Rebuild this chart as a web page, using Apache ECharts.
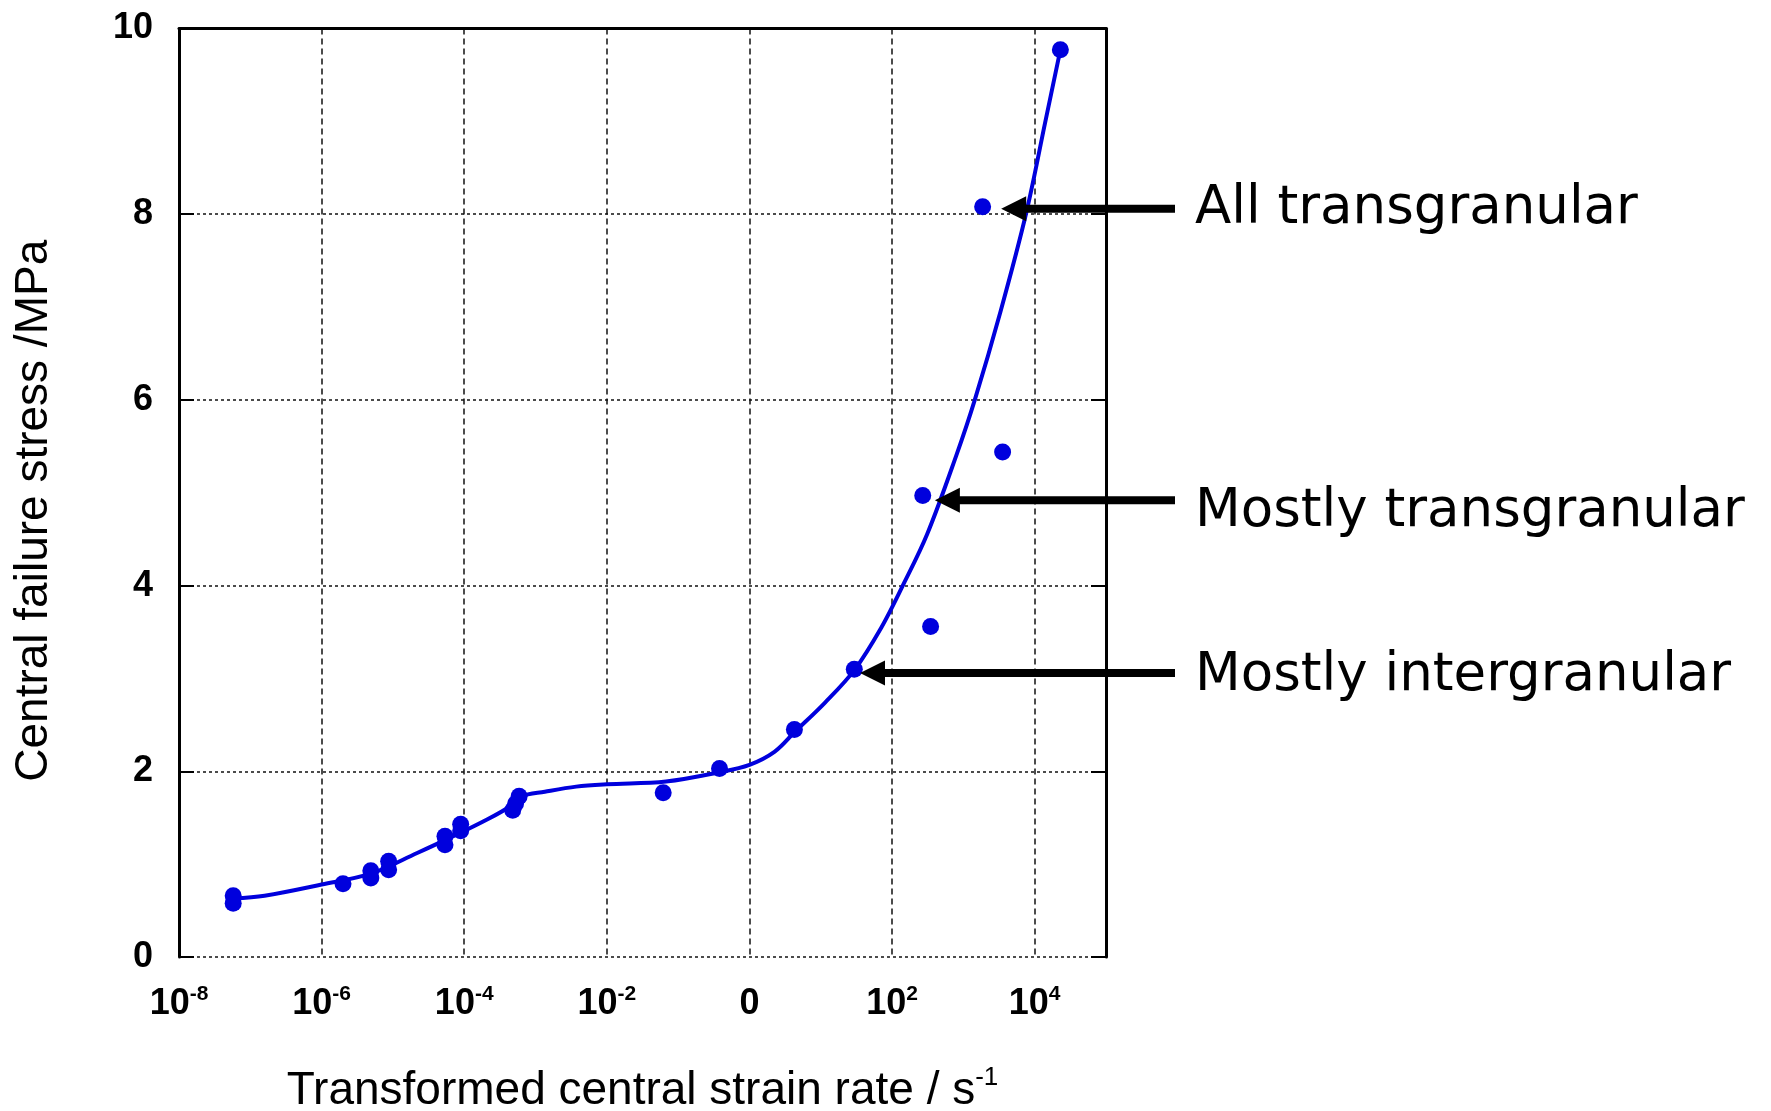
<!DOCTYPE html>
<html><head><meta charset="utf-8">
<script src="https://cdn.jsdelivr.net/npm/echarts@6/dist/echarts.min.js"></script>
<style>html,body{margin:0;padding:0;background:#fff}#c{width:1771px;height:1111px}</style>
</head><body><div id="c"></div>
<script>
// ---- data (x values are log10 of the transformed central strain rate, s^-1) ----
const xTickValues = [-8, -6, -4, -2, 0, 2, 4];
const xTickBase   = ['10', '10', '10', '10', '0', '10', '10'];
const xTickExp    = ['-8', '-6', '-4', '-2', '', '2', '4'];

const pointLogRate = [-7.24, -7.24, -5.70, -5.31, -5.31, -5.06, -5.06, -4.27, -4.27, -4.05, -4.05,
                      -3.32, -3.28, -3.23, -1.21, -0.42, 0.63, 1.47, 2.43, 2.54, 3.55, 3.27, 4.36];
const pointStress  = [0.66, 0.58, 0.79, 0.93, 0.85, 1.03, 0.94, 1.30, 1.21, 1.43, 1.36,
                      1.58, 1.65, 1.73, 1.77, 2.03, 2.45, 3.10, 4.97, 3.56, 5.44, 8.08, 9.77];

const curveLogRate = [-7.24, -6.8, -6.0, -5.3, -4.66, -4.21, -3.68, -3.32, -3.2,
                      -2.87, -2.43, -2.0, -1.17, -0.42, 0.0, 0.35, 0.63, 1.06, 1.47,
                      1.85, 2.15, 2.49, 2.90, 3.16, 3.52, 3.88, 4.15, 4.36];
const curveStress  = [0.63, 0.66, 0.78, 0.90, 1.12, 1.28, 1.48, 1.64, 1.73,
                      1.78, 1.835, 1.86, 1.89, 1.99, 2.07, 2.21, 2.42, 2.74, 3.09,
                      3.55, 4.0, 4.55, 5.40, 6.0, 6.95, 8.01, 9.0, 9.77];

const annotationText    = ['All transgranular', 'Mostly transgranular', 'Mostly intergranular'];
const annotationLogRate = [3.53, 2.60, 1.55];
const annotationStress  = [8.06, 4.92, 3.06];

const xTitle = 'Transformed central strain rate / s';
const xTitleExp = '-1';
const yTitle = 'Central failure stress /MPa';

// ---- chart ----
const BLUE = '#0000DD';
const FONT = '"Liberation Sans", Arial, sans-serif';
const annotationTextDy = [1, 12, 3];
const chart = echarts.init(document.getElementById('c'), null, {renderer: 'canvas'});

const tickStyle = {fontFamily: FONT, fontWeight: 'bold', color: '#000'};

chart.setOption({
  backgroundColor: '#fff',
  animation: false,
  grid: {left: 179, right: 665, top: 28.5, bottom: 154, containLabel: false, outerBoundsMode: 'none'},
  xAxis: [{
    type: 'value', min: -8, max: 5, interval: 2,
    axisLine: {show: false, onZero: false},
    axisTick: {show: false},
    splitLine: {show: true, lineStyle: {color: '#111', width: 1.5, type: [6, 4]}},
    axisLabel: {
      margin: 27,
      formatter: function (v) {
        const i = xTickValues.indexOf(v);
        if (i < 0) return '';
        return xTickExp[i] ? '{b|' + xTickBase[i] + '}{s|' + xTickExp[i] + '}' : '{b|' + xTickBase[i] + '}';
      },
      rich: {
        b: Object.assign({fontSize: 36, lineHeight: 40}, tickStyle),
        s: Object.assign({fontSize: 21, lineHeight: 24, verticalAlign: 'top'}, tickStyle)
      }
    },
    name: '{t|' + xTitle + '}{s|' + xTitleExp + '}',
    nameLocation: 'middle', nameGap: 108,
    nameTextStyle: {
      rich: {
        t: {fontSize: 46, fontFamily: FONT, color: '#000', lineHeight: 52},
        s: {fontSize: 26, fontFamily: FONT, color: '#000', lineHeight: 30, verticalAlign: 'top'}
      }
    }
  }, {
    type: 'value', min: -8, max: 5, position: 'top',
    axisLine: {show: true, onZero: false, lineStyle: {color: '#000', width: 3}},
    axisTick: {show: false}, axisLabel: {show: false}, splitLine: {show: false}
  }],
  yAxis: [{
    type: 'value', min: 0, max: 10, interval: 2,
    axisLine: {show: true, onZero: false, lineStyle: {color: '#000', width: 3}},
    axisTick: {show: true, inside: true, length: 15, lineStyle: {color: '#000', width: 2}},
    splitLine: {show: true, lineStyle: {color: '#111', width: 1.5, type: [3, 3]}},
    axisLabel: Object.assign({fontSize: 36, margin: 26}, tickStyle),
    name: yTitle, nameLocation: 'middle', nameGap: 122, nameRotate: 90,
    nameTextStyle: {fontSize: 46, fontFamily: FONT, color: '#000', padding: [0, 36, 0, 0]}
  }, {
    type: 'value', min: 0, max: 10, interval: 2, position: 'right',
    axisLine: {show: true, onZero: false, lineStyle: {color: '#000', width: 3}},
    axisTick: {show: true, inside: true, length: 15, lineStyle: {color: '#000', width: 2}},
    axisLabel: {show: false}, splitLine: {show: false}
  }],
  series: [{
    type: 'line', xAxisIndex: 0, yAxisIndex: 0,
    data: curveLogRate.map((x, i) => [x, curveStress[i]]),
    showSymbol: false, smooth: 0.35,
    lineStyle: {color: BLUE, width: 4}, z: 2
  }, {
    type: 'scatter', xAxisIndex: 0, yAxisIndex: 0,
    data: pointLogRate.map((x, i) => [x, pointStress[i]]),
    symbol: 'circle', symbolSize: 17,
    itemStyle: {color: BLUE, opacity: 1}, z: 3
  }]
});

// ---- annotations: arrows pointing at data locations ----
const graphics = [];
annotationText.forEach(function (txt, i) {
  const p = chart.convertToPixel({xAxisIndex: 0, yAxisIndex: 0}, [annotationLogRate[i], annotationStress[i]]);
  const tx = p[0], ty = p[1];
  graphics.push({
    type: 'line', z: 100,
    shape: {x1: 1175, y1: ty, x2: tx + 20, y2: ty},
    style: {stroke: '#000', lineWidth: 8}
  });
  graphics.push({
    type: 'polygon', z: 100,
    shape: {points: [[tx, ty], [tx + 25, ty - 12.5], [tx + 25, ty + 12.5]]},
    style: {fill: '#000'}
  });
  graphics.push({
    type: 'text', z: 100, x: 1195, y: ty + annotationTextDy[i],
    style: {text: txt, fontSize: 53, fontFamily: '"DejaVu Sans", Verdana, sans-serif',
            fill: '#000', verticalAlign: 'middle', align: 'left'}
  });
});
chart.setOption({graphic: graphics});
</script>
</body></html>
